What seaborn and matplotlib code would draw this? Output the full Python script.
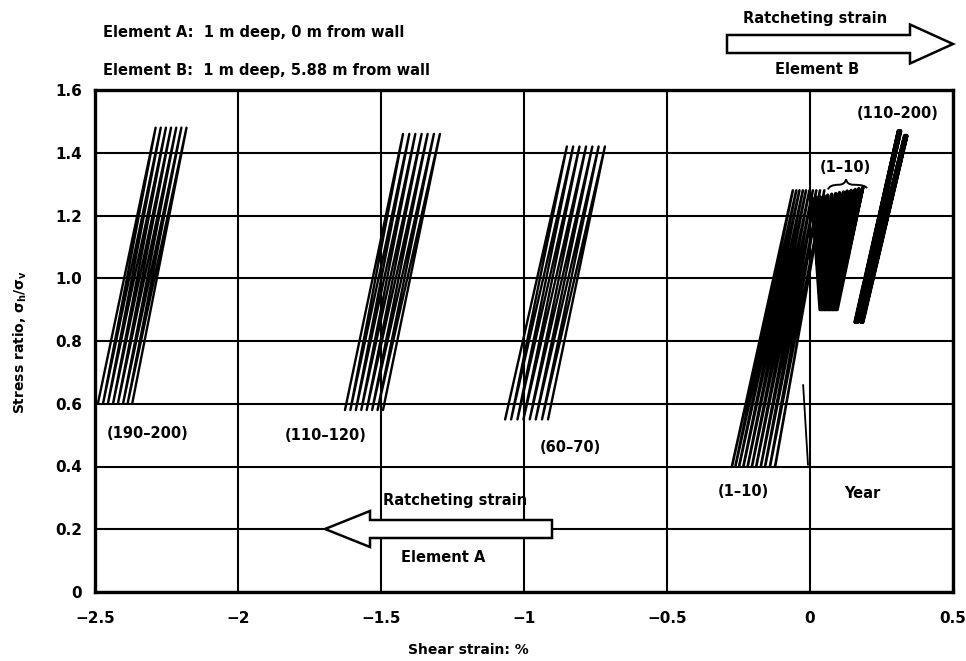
import numpy as np
import pandas as pd
import matplotlib
matplotlib.use("Agg")
import matplotlib.pyplot as plt
import seaborn as sns
from matplotlib.patches import Polygon, PathPatch
from matplotlib.path import Path

# ---- data: loop bundles (strain at loop bottoms / tops, stress limits) ----
# Element A, years 190-200
a190_bottom = [-2.370, -2.386, -2.402, -2.420, -2.437, -2.455, -2.472, -2.490]
a190_top = [-2.180, -2.198, -2.216, -2.234, -2.252, -2.270, -2.288]
a190_low = [0.60]
a190_high = [1.48]
# Element A, years 110-120
a110_bottom = [-1.493, -1.512, -1.531, -1.550, -1.569, -1.588, -1.607, -1.626]
a110_top = [-1.294, -1.315, -1.337, -1.358, -1.380, -1.401, -1.423]
a110_low = [0.58]
a110_high = [1.46]
# Element A, years 60-70
a60_bottom = [-0.916, -0.937, -0.959, -0.980, -1.002, -1.023, -1.045, -1.066]
a60_top = [-0.717, -0.739, -0.761, -0.783, -0.806, -0.828, -0.850]
a60_low = [0.55]
a60_high = [1.42]
# Element A, years 1-10
a1_bottom = [-0.122, -0.140, -0.157, -0.172, -0.188, -0.203, -0.218, -0.233, -0.248, -0.261, -0.273]
a1_top = [0.050, 0.035, 0.022, 0.010, -0.002, -0.014, -0.025, -0.037, -0.048, -0.060]
a1_low = [0.40]
a1_high = [1.28]
# Element B, years 1-10
b1_bottom = [0.035, 0.039, 0.043, 0.048, 0.052, 0.056, 0.061, 0.065,
             0.069, 0.073, 0.078, 0.082, 0.086, 0.091, 0.095]
b1_top = [0.008, 0.022, 0.035, 0.049, 0.062, 0.076, 0.090, 0.103,
          0.117, 0.130, 0.144, 0.158, 0.171, 0.185]
b1_low = [0.90]
b1_high = [1.255, 1.258, 1.260, 1.263, 1.265, 1.268, 1.270, 1.273,
           1.275, 1.278, 1.280, 1.283, 1.286, 1.290]
# Element B, years 110-200
b110_bottom = [0.157, 0.159, 0.161, 0.163, 0.165, 0.167, 0.177, 0.179, 0.181, 0.183, 0.185]
b110_top = [0.309, 0.311, 0.313, 0.315, 0.317, 0.331, 0.333, 0.335, 0.337, 0.339]
b110_low = [0.86]
b110_high = [1.47, 1.47, 1.47, 1.47, 1.47, 1.455, 1.455, 1.455, 1.455, 1.455]

x_ticks = [-2.5, -2, -1.5, -1, -0.5, 0, 0.5]
x_tick_labels = ["\u22122.5", "\u22122", "\u22121.5", "\u22121", "\u22120.5", "0", "0.5"]
y_ticks = [0, 0.2, 0.4, 0.6, 0.8, 1.0, 1.2, 1.4, 1.6]
y_tick_labels = ["0", "0.2", "0.4", "0.6", "0.8", "1.0", "1.2", "1.4", "1.6"]

bundles = {
    "A 190-200": (a190_bottom, a190_top, a190_low, a190_high),
    "A 110-120": (a110_bottom, a110_top, a110_low, a110_high),
    "A 60-70": (a60_bottom, a60_top, a60_low, a60_high),
    "A 1-10": (a1_bottom, a1_top, a1_low, a1_high),
    "B 1-10": (b1_bottom, b1_top, b1_low, b1_high),
    "B 110-200": (b110_bottom, b110_top, b110_low, b110_high),
}
bundle_width = {"A 190-200": 1.7, "A 110-120": 1.7, "A 60-70": 1.7,
                "A 1-10": 1.9, "B 1-10": 2.4, "B 110-200": 2.4}


def pick(vals, i):
    return vals[i] if len(vals) > 1 else vals[0]


# each bundle is one continuous path: bottom -> top -> bottom -> top ...
rows = []
for name, (bottoms, tops, lows, highs) in bundles.items():
    order = 0
    for i, xb in enumerate(bottoms):
        rows.append((name, order, xb, pick(lows, i))); order += 1
        if i < len(tops):
            rows.append((name, order, tops[i], pick(highs, i))); order += 1
df = pd.DataFrame(rows, columns=["bundle", "step", "strain", "stress"])

# ---- figure ----
W, H = 966, 661
sns.set_theme(style="white")
plt.rcParams["font.family"] = ["DejaVu Sans"]
plt.rcParams["font.weight"] = "bold"
plt.rcParams["mathtext.fontset"] = "custom"
plt.rcParams["mathtext.rm"] = "DejaVu Sans:bold"
plt.rcParams["mathtext.it"] = "DejaVu Sans:italic:bold"

fig = plt.figure(figsize=(W / 100, H / 100), dpi=100)
L, R, T, B = 95, 953, 90, 592
ax = fig.add_axes([L / W, 1 - B / H, (R - L) / W, (B - T) / H])


def fx(px):
    return px / W


def fy(py):
    return 1 - py / H


for name, sub in df.groupby("bundle", sort=False):
    sns.lineplot(data=sub, x="strain", y="stress", estimator=None, sort=False,
                 color="black", lw=bundle_width[name], ax=ax, legend=False,
                 zorder=4)

ax.set_xlim(-2.5, 0.5)
ax.set_ylim(0, 1.6)
ax.set_xticks(x_ticks)
ax.set_xticklabels(x_tick_labels)
ax.set_yticks(y_ticks)
ax.set_yticklabels(y_tick_labels)
ax.grid(True, color="black", lw=1.5)
ax.set_axisbelow(True)
for s in ax.spines.values():
    s.set_color("black")
    s.set_linewidth(2.4)
ax.tick_params(axis="both", direction="inout", length=9, width=1.5,
               color="black", labelsize=11, labelcolor="black")
ax.tick_params(axis="y", pad=5)
ax.tick_params(axis="x", pad=9)
for lab in ax.get_xticklabels() + ax.get_yticklabels():
    lab.set_fontweight("bold")

ax.set_xlabel("Shear strain: %", fontsize=10, fontweight="bold", color="black")
ax.set_ylabel("Stress ratio, \u03c3$_\\mathregular{h}$/\u03c3$_\\mathregular{v}$",
              fontsize=10, fontweight="bold", color="black")
ax.xaxis.set_label_coords((468 - L) / (R - L), -(643 - B) / (B - T))
ax.yaxis.set_label_coords(-(L - 29) / (R - L), (B - 342) / (B - T))


def block_arrow(tail, tip, yc, body, head, head_len):
    d = 1 if tip > tail else -1
    neck = tip - d * head_len
    pts = [(tail, yc - body / 2), (neck, yc - body / 2), (neck, yc - head / 2),
           (tip, yc), (neck, yc + head / 2), (neck, yc + body / 2),
           (tail, yc + body / 2)]
    poly = Polygon([(fx(x), fy(y)) for x, y in pts], closed=True,
                   transform=fig.transFigure, facecolor="white",
                   edgecolor="black", lw=1.8, clip_on=False, zorder=6)
    ax.add_patch(poly)


block_arrow(727, 953, 44, 18, 39, 43)
block_arrow(552, 325, 529, 18, 36, 45)


def label(px, py, s, ha="center", size=10.5):
    fig.text(fx(px), fy(py), s, ha=ha, va="center", fontsize=size,
             fontweight="bold", color="black", zorder=7)


label(103, 33, "Element A:  1 m deep, 0 m from wall", ha="left")
label(103, 70, "Element B:  1 m deep, 5.88 m from wall", ha="left")
label(815, 19, "Ratcheting strain")
label(817, 70, "Element B")
label(455, 500, "Ratcheting strain")
label(443, 558, "Element A")
label(148, 433, "(190\u2013200)")
label(326, 435, "(110\u2013120)")
label(570, 447, "(60\u201370)")
label(743, 492, "(1\u201310)")
label(862, 493, "Year")
label(845, 168, "(1\u201310)")
label(898, 113, "(110\u2013200)")

# brace over the element B early-year loops
brace = Path([(0.063, 1.283), (0.068, 1.298), (0.100, 1.298),
              (0.122, 1.298), (0.126, 1.315),
              (0.130, 1.298), (0.152, 1.298),
              (0.194, 1.298), (0.199, 1.287)],
             [Path.MOVETO, Path.CURVE3, Path.CURVE3,
              Path.CURVE3, Path.CURVE3,
              Path.CURVE3, Path.CURVE3,
              Path.CURVE3, Path.CURVE3])
ax.add_patch(PathPatch(brace, facecolor="none", edgecolor="black", lw=1.4, zorder=5))

# leader from the loops toward the year label
ax.annotate("", xy=(-0.024, 0.66), xytext=(-0.007, 0.405),
            arrowprops=dict(arrowstyle="-", color="black", lw=1.3,
                            shrinkA=0, shrinkB=0), zorder=5)

fig.savefig("out.png", dpi=100, facecolor="white")
